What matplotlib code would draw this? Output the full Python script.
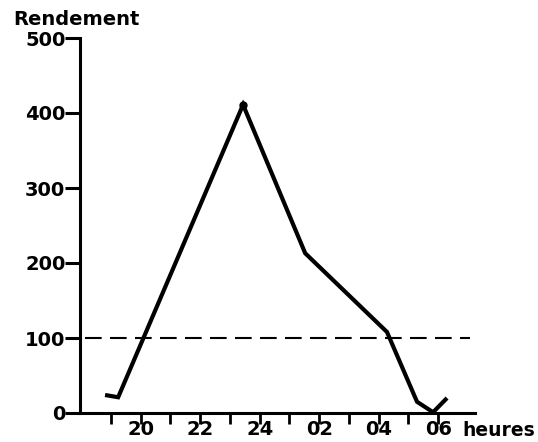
import matplotlib
matplotlib.use("Agg")
import matplotlib.pyplot as plt

# Data (hours on a continuous scale; 25 = 01h, 26 = 02h, ...)
hours = [18.80, 19.24, 23.44, 25.53, 28.28, 29.29, 29.83, 30.30]
rendement = [24, 21, 411, 213, 108, 15, 1, 20]
threshold = 100

major_ticks = [20, 22, 24, 26, 28, 30]
major_labels = ["20", "22", "24", "02", "04", "06"]
minor_ticks = [19, 21, 23, 25, 27, 29]
y_ticks = [0, 100, 200, 300, 400, 500]
y_labels = ["0", "100", "200", "300", "400", "500"]
ylabel_text = "Rendement"
xlabel_text = "heures"

plt.rcParams['font.family'] = ['DejaVu Sans']

W, H = 538, 442
fig = plt.figure(figsize=(W/100, H/100), dpi=100)
ax = fig.add_axes([80/W, 1-413/H, (475-80)/W, (413-38)/H])

ax.plot(hours, rendement, color='black', lw=3.0, solid_joinstyle='miter',
        solid_capstyle='butt', zorder=3)
ax.plot([hours[2]], [rendement[2]], 'o', color='black', ms=5, zorder=4)

ax.plot([18.125, 31.07], [threshold, threshold], color='black', lw=1.5,
        dashes=(8, 4), clip_on=False, zorder=2)

ax.set_xlim(17.957, 31.24)
ax.set_ylim(0, 500)

for s in ['top', 'right']:
    ax.spines[s].set_visible(False)
for s in ['left', 'bottom']:
    ax.spines[s].set_linewidth(2.2)

ax.set_xticks(major_ticks)
ax.set_xticklabels(major_labels, fontsize=14, fontweight='bold')
ax.set_xticks(minor_ticks, minor=True)
ax.tick_params(axis='x', which='both', direction='out', length=8, width=2, pad=-3)
ax.set_yticks(y_ticks)
ax.set_yticklabels(y_labels, fontsize=14, fontweight='bold')
ax.tick_params(axis='y', direction='out', length=10.5, width=2.2, pad=0)

fig.text(13/W, 1-25/H, ylabel_text, fontsize=14, fontweight='semibold',
         ha='left', va='baseline')
fig.text(462/W, 1-436/H, xlabel_text, fontsize=13.5, fontweight='bold',
         ha='left', va='baseline')

fig.savefig("out.png", dpi=100)
